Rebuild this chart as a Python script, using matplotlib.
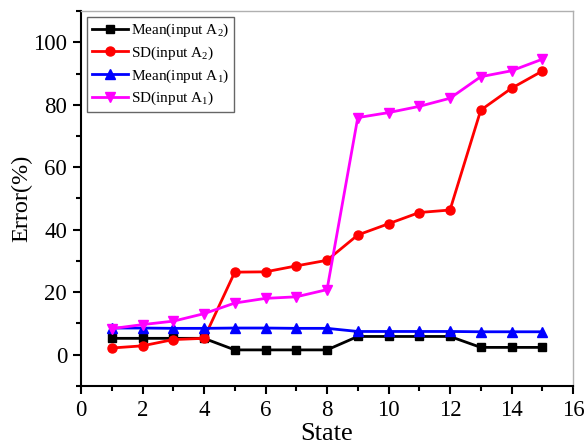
import matplotlib
matplotlib.use("Agg")
import matplotlib.pyplot as plt
from matplotlib.ticker import MultipleLocator

plt.rcParams['font.family'] = ['Liberation Serif', 'DejaVu Serif']
plt.rcParams['mathtext.fontset'] = 'custom'
plt.rcParams['mathtext.rm'] = 'Liberation Serif'

states = list(range(1, 16))
mean_a2 = [5.2, 5.2, 5.2, 5.2, 1.5, 1.5, 1.5, 1.5, 5.8, 5.8, 5.8, 5.8, 2.3, 2.3, 2.3]
sd_a2 = [2.1, 2.8, 4.8, 5.2, 26.4, 26.5, 28.4, 30.2, 38.3, 41.9, 45.5, 46.3, 78.3, 85.3, 90.8]
mean_a1 = [8.5, 8.5, 8.4, 8.4, 8.5, 8.5, 8.4, 8.4, 7.4, 7.4, 7.4, 7.4, 7.3, 7.3, 7.3]
sd_a1 = [8.3, 9.6, 10.7, 13.1, 16.5, 18.0, 18.5, 20.8, 75.9, 77.5, 79.5, 82.1, 89.0, 90.9, 94.6]

labels = ['Mean(input A$\\mathregular{_2}$)', 'SD(input A$\\mathregular{_2}$)',
          'Mean(input A$\\mathregular{_1}$)', 'SD(input A$\\mathregular{_1}$)']

fig = plt.figure(figsize=(5.85, 4.46), dpi=100)
ax = fig.add_axes([0.1385, 0.135, 0.841, 0.84])

ax.plot(states, mean_a2, color='black', marker='s', ms=5.5, lw=2, label=labels[0])
ax.plot(states, sd_a2, color='red', marker='o', ms=6.5, lw=2, label=labels[1])
ax.plot(states, mean_a1, color='blue', marker='^', ms=7, lw=2, label=labels[2])
ax.plot(states, sd_a1, color='magenta', marker='v', ms=7, lw=2, label=labels[3])

ax.set_xlim(0, 16)
ax.set_ylim(-10, 110)
ax.xaxis.set_major_locator(MultipleLocator(2))
ax.xaxis.set_minor_locator(MultipleLocator(1))
ax.yaxis.set_minor_locator(MultipleLocator(10))
ax.set_yticks([0, 20, 40, 60, 80, 100])

for s in ['top', 'right']:
    ax.spines[s].set_color('#b0b0b0')
    ax.spines[s].set_linewidth(1.0)
for s in ['left', 'bottom']:
    ax.spines[s].set_linewidth(1.5)

ax.tick_params(which='major', direction='out', length=6, width=1.5, labelsize=16.5,
               top=False, right=False, pad=4)
ax.tick_params(which='minor', direction='out', length=3.5, width=1.5, top=False, right=False)

ax.set_xlabel('State', fontsize=19, labelpad=2)
ax.set_ylabel('Error(%)', fontsize=17.5)
ax.yaxis.set_label_coords(-0.098, 0.5)

leg = ax.legend(loc='upper left', bbox_to_anchor=(0.0, 1.0), fontsize=11,
                frameon=True, fancybox=False, edgecolor='#404040',
                handlelength=2.4, handletextpad=0.2, labelspacing=0.35,
                borderpad=0.3, borderaxespad=0.4)
leg.get_frame().set_linewidth(1.0)

fig.savefig('out.png', dpi=100)
